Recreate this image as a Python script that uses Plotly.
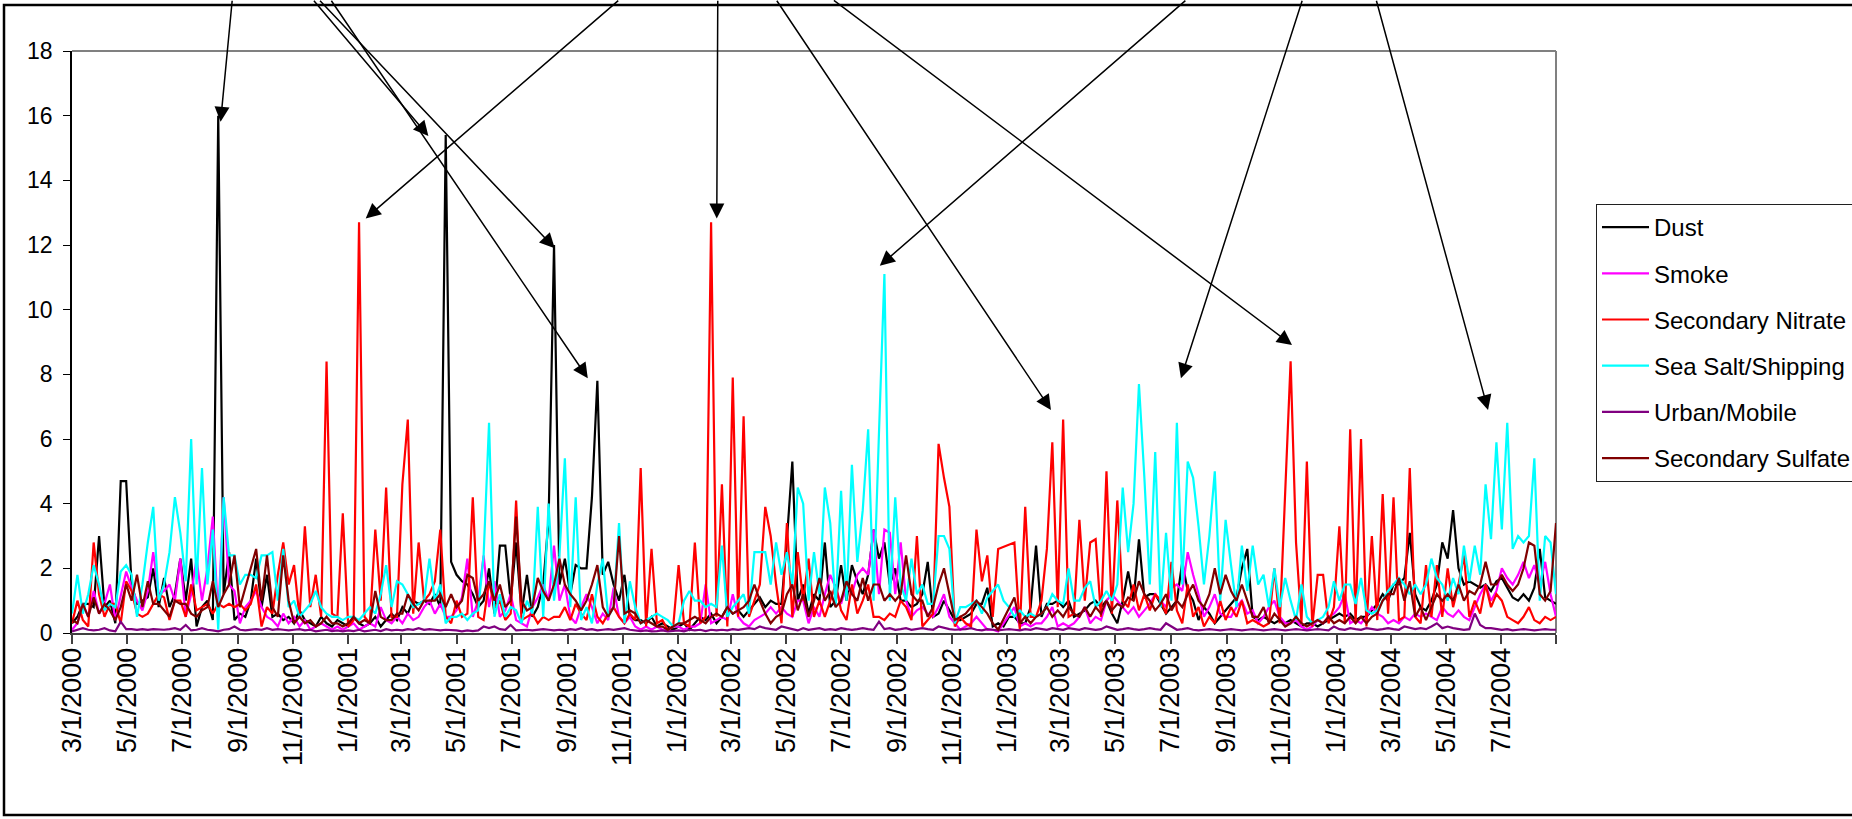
import pandas as pd
import plotly.graph_objects as go

# ---------------- data (6-day samples from 3/1/2000 to 8/31/2004) ----------------
start_date = "2000-03-01"
n_samples = 275
sample_step = "6D"

dust = [
    0.3,0.5,0.9,0.9,0.8, 3.0,0.8,1.0,0.3,4.7, 4.7,1.5,0.9,1.0,1.1, 2.0,0.8,1.7,0.8,1.2, 2.3,1.0,2.3,0.2,0.8,
    1.0,0.4,16.0,1.2,2.5, 0.4,0.6,0.5,1.0,2.3, 0.8,1.8,0.5,0.6,0.4, 0.5,0.3,0.7,0.4,0.3, 0.2,0.5,0.3,0.2,0.4,
    0.3,0.2,0.5,0.3,0.2, 0.3,0.5,0.2,0.4,0.6, 0.4,0.8,0.6,1.0,0.9, 1.0,0.9,1.2,0.8,15.4, 2.2,1.8,1.6,1.5,1.2,
    0.8,1.0,2.0,0.6,2.7, 2.7,1.0,2.8,0.6,1.8, 0.5,0.8,1.5,3.5,12.0, 1.5,2.3,1.2,2.1,2.0, 2.0,4.2,7.8,1.8,2.2,
    1.5,1.0,1.8,0.5,0.4, 0.4,0.3,0.5,0.2,0.3, 0.2,0.1,0.2,0.3,0.1, 0.3,0.5,0.4,0.6,0.3, 0.5,0.8,0.6,0.7,0.5,
    0.7,0.9,1.1,0.8,1.0, 0.9,0.9,2.9,5.3,1.0, 1.5,0.6,1.2,1.0,2.8, 0.8,1.0,2.1,1.0,2.1, 1.6,1.2,1.8,3.2,2.3,
    2.8,1.5,2.0,1.0,1.0, 0.8,0.9,1.2,2.2,0.5, 0.6,1.0,0.7,0.4, 0.4,0.5,0.6,0.9,0.9, 1.4,0.2,0.3,0.2,0.5,
    0.5,0.3,0.3,0.8,2.7, 0.5,0.9,0.9,1.0,0.8, 1.0,0.5,0.6,0.7,0.9, 1.0,0.8,1.0,0.6,0.3, 1.0,1.9,1.0,2.9,1.1,
    1.2,1.2,0.9,0.6,0.8, 1.0,2.2,1.3,1.0,0.4, 0.8,0.6,0.3,0.5,0.7, 0.9,1.1,2.0,2.6,0.5, 0.4,0.5,0.4,0.3,0.4,
    0.3,0.4,0.3,0.2,0.3, 0.3,0.2,0.3,0.4,0.5, 0.6,0.5,0.6,0.4,0.5, 0.5,0.7,0.9,1.2,1.0, 1.5,1.5,1.7,3.1,1.2,
    0.8,0.7,1.0,1.5,2.8, 2.3,3.8,2.0,1.5,1.6, 1.5,1.4,1.5,1.3,1.6, 1.7,1.4,1.1,1.0,1.2, 1.0,1.4,2.6,1.1,1.0,0.9,
]

smoke = [
    0.1,0.3,0.9,0.5,1.3, 0.6,0.9,1.5,0.4,1.2, 1.9,1.4,1.0,0.7,1.3, 2.5,1.2,1.3,1.5,1.0, 2.3,0.5,1.2,2.3,1.0,
    2.0,3.6,0.5,4.2,1.5, 1.3,0.3,0.8,1.0,1.3, 0.8,0.5,0.4,0.2,0.6, 0.3,0.5,0.2,0.4,0.1, 0.2,0.3,0.2,0.1,0.2,
    0.1,0.2,0.3,0.1,0.2, 0.3,0.2,0.8,0.4,0.3, 0.5,0.3,0.6,0.4,0.5, 0.8,1.0,0.6,0.9,0.5, 0.5,0.7,1.1,2.3,0.5,
    1.0,2.4,0.8,1.6,0.5, 0.7,1.2,0.4,0.3,0.2, 0.8,1.1,1.5,1.0,2.7, 1.0,1.5,0.5,0.3,0.8, 1.2,0.8,0.3,0.6,0.4,
    1.4,0.5,0.3,0.5,0.2, 0.1,0.2,0.1,0.2,0.1, 0.1,0.2,0.2,0.1,0.2, 0.2,0.3,1.5,0.3,0.4, 0.5,0.4,1.2,0.5,0.3,
    0.2,0.4,0.5,0.6,0.8, 0.6,0.8,0.6,0.5,1.0, 1.0,0.3,0.8,0.5,1.2, 1.8,1.4,0.9,1.5,1.2, 1.8,2.0,1.8,3.2,1.2,
    3.2,3.1,1.2,2.8,1.0, 0.5,0.7,0.8,0.6,0.5, 0.8,1.2,0.5,0.3, 0.1,0.2,0.3,0.5,0.3, 0.1,0.1,0.05,None,None,
    0.8,0.2,0.3,0.2,0.3, 0.3,0.5,0.8,0.2,0.3, 0.2,0.3,0.5,0.8,0.3, 0.5,0.4,1.0,1.2,1.0, 0.8,0.6,0.8,0.5,0.7,
    0.9,1.2,1.0,0.8,1.4, 1.5,1.3,2.5,1.8,1.2, 0.5,0.8,1.2,0.6,0.5, 0.5,0.8,1.0,0.6,0.7, 0.3,0.5,0.8,1.0,0.5,
    0.3,0.3,0.4,0.2,0.1, 0.2,0.4,0.3,0.5,0.6, 0.8,1.2,0.3,0.4,0.3, 0.5,0.8,0.6,0.5,0.3, 0.4,0.3,0.5,0.4,0.6,
    0.5,0.6,0.5,0.4,0.8, 0.6,0.5,0.7,0.5,0.4, 0.8,1.2,1.5,1.0,1.3, 2.0,1.7,1.5,1.8,2.2, 1.7,2.1,1.5,2.2,1.2,0.5,
]

nitrate = [
    0.3,1.0,0.4,0.2,2.8, 1.2,0.5,0.9,0.9,0.3, 1.6,1.3,0.6,0.5,0.6, 0.9,1.2,1.1,0.4,1.0, 1.0,0.5,1.5,0.7,0.8,
    0.9,0.6,0.9,0.8,0.9, 0.8,0.9,0.7,0.9,1.5, 0.2,0.8,0.6,1.8,2.8, 1.5,2.1,0.5,3.3,0.8, 1.8,0.5,8.4,0.6,0.5,
    3.7,0.2,0.4,12.7,0.5, 0.3,3.2,1.0,4.5,0.5, 0.5,4.6,6.6,0.6,2.8, 1.0,1.2,1.6,3.2,0.5, 0.3,1.0,0.5,0.6,4.2,
    0.5,0.4,1.6,0.8,1.0, 0.4,0.6,4.1,0.4,0.5, 0.6,0.3,0.5,0.4,0.5, 0.5,0.8,0.4,0.9,0.6, 0.4,1.2,0.5,0.3,0.6,
    0.8,0.5,0.3,0.6,0.4, 5.1,0.2,2.6,0.3,0.4, 0.1,0.2,2.1,0.3,0.2, 2.8,0.3,0.5,12.7,0.5, 4.6,0.2,7.9,0.5,6.7,
    0.5,1.0,1.5,3.9,3.0, 1.5,0.3,3.4,0.5,2.5, 1.0,2.3,0.5,1.0,0.5, 1.0,1.5,0.7,0.4,1.5, 0.6,1.0,1.5,0.5,0.5,
    0.4,0.6,0.5,1.0,0.8, 0.4,3.0,0.2,0.4,0.6, 5.85,4.8,3.9,0.2, 0.5,0.3,0.2,3.2,1.6, 2.4,0.5,2.6,None,None,
    2.8,0.1,3.9,0.5,0.5, 1.0,2.6,5.9,0.8,6.6, 0.5,0.6,3.5,1.0,2.8, 2.9,0.5,5.0,0.6,4.1, 1.0,0.8,1.5,0.7,1.2,
    0.7,1.2,1.0,0.6,2.2, 0.7,0.3,1.5,0.5,0.8, 0.2,0.5,0.3,1.0,0.4, 0.8,0.5,1.0,0.3,0.4, 0.3,0.2,0.3,2.0,0.3,
    4.2,8.4,2.8,0.3,5.3, 0.2,1.8,1.8,0.3,0.8, 3.3,0.3,6.3,0.3,6.0, 0.2,3.0,0.4,4.3,0.6, 4.2,0.4,0.5,5.1,0.5,
    0.3,2.1,0.5,2.1,0.5, 2.0,0.8,1.5,2.4,0.5, 1.0,0.6,1.5,0.8,1.2, 1.0,0.5,0.4,0.3,0.5, 0.8,0.4,0.3,0.5,0.4,0.5,
]

sea_salt = [
    0.6,1.8,0.6,1.2,2.1, 1.5,0.7,0.9,0.8,1.9, 2.1,1.8,0.5,1.5,2.8, 3.9,1.0,1.5,2.5,4.2, 3.1,1.6,6.0,1.5,5.1,
    1.5,3.2,0.1,4.2,2.4, 2.4,1.5,1.8,1.8,1.7, 2.4,2.4,2.5,1.0,2.6, 0.8,1.0,0.5,0.7,0.9, 1.3,0.8,0.6,0.5,0.5,
    0.4,0.5,0.5,0.4,0.6, 0.8,0.6,1.2,2.1,0.8, 1.6,1.5,1.2,0.8,0.9, 1.0,2.3,1.0,1.5,0.3, 0.5,0.5,0.6,0.4,0.6,
    0.7,2.4,6.5,0.5,1.2, 0.5,0.8,0.7,0.3,1.0, 0.6,3.9,0.5,4.0,1.0, 2.4,5.4,0.8,4.2,0.4, 0.8,0.3,1.5,2.3,0.5,
    0.8,3.4,0.3,1.6,0.8, 0.3,0.4,0.5,0.6,0.5, 0.4,0.2,0.3,1.0,1.3, 1.0,1.0,0.8,0.9,0.8, 2.7,0.5,0.8,1.0,1.2,
    0.6,2.5,2.5,2.5,1.5, 2.8,1.8,2.5,1.5,4.5, 4.0,1.0,2.5,1.2,4.5, 3.4,0.8,4.4,1.0,5.2, 2.2,3.8,6.3,1.0,6.2,
    11.1,1.0,4.2,1.5,1.0, 2.3,1.2,1.5,0.9,0.9, 3.0,3.0,2.6,0.3, 0.8,0.8,0.9,1.0,0.6, 1.1,1.3,1.5,1.0,0.8,
    0.5,0.7,0.5,0.6,0.5, 0.6,0.8,1.2,1.0,0.9, 2.0,1.0,1.0,1.4,1.6, 0.8,1.0,1.3,1.0,1.5, 4.5,2.5,4.0,7.7,4.8,
    1.5,5.6,0.8,3.1,1.0, 6.5,1.5,5.3,4.8,3.3, 1.5,3.0,5.0,1.0,3.5, 2.1,0.8,2.7,1.3,2.7, 1.5,1.8,0.8,2.0,0.8,
    1.7,1.0,0.4,1.5,0.5, 0.3,0.4,0.5,0.8,1.6, 1.0,1.5,1.5,0.9,1.7, 0.7,0.6,0.7,1.0,1.3, 1.5,1.7,1.5,1.2,1.5,
    1.2,1.5,2.3,1.7,1.5, 1.0,1.7,1.2,2.7,1.6, 2.7,1.8,4.6,2.9,5.9, 3.2,6.5,2.6,3.0,2.8, 3.0,5.4,1.0,3.0,2.8,1.2,
]

urban = [
    0.05,0.1,0.15,0.1,0.08, 0.1,0.15,0.08,0.05,0.35, 0.12,0.12,0.1,0.12,0.1, 0.12,0.1,0.1,0.12,0.15, 0.1,0.25,0.08,0.1,0.15,
    0.1,0.08,0.05,0.1,0.12, 0.2,0.1,0.08,0.1,0.12, 0.1,0.15,0.1,0.12,0.1, 0.08,0.1,0.12,0.08,0.1, 0.05,0.08,0.1,0.06,0.08,
    0.05,0.08,0.06,0.1,0.05, 0.08,0.1,0.06,0.12,0.08, 0.1,0.08,0.12,0.1,0.15, 0.1,0.12,0.1,0.08,0.1, 0.1,0.08,0.05,0.08,0.06,
    0.08,0.2,0.15,0.2,0.12, 0.1,0.25,0.08,0.1,0.1, 0.08,0.1,0.12,0.1,0.08, 0.1,0.08,0.12,0.1,0.15, 0.1,0.12,0.08,0.1,0.12,
    0.1,0.12,0.15,0.1,0.08, 0.06,0.08,0.05,0.06,0.08, 0.05,0.06,0.08,0.05,0.1, 0.08,0.1,0.06,0.1,0.08, 0.1,0.08,0.12,0.1,0.12,
    0.15,0.12,0.2,0.15,0.12, 0.1,0.2,0.15,0.12,0.08, 0.15,0.1,0.12,0.15,0.1, 0.12,0.1,0.15,0.12,0.1, 0.12,0.15,0.12,0.1,0.35,
    0.12,0.15,0.1,0.12,0.15, 0.1,0.12,0.15,0.12,0.1, 0.2,0.15,0.12,0.1, 0.1,0.12,0.15,0.1,0.08, 0.12,0.1,0.08,0.1,0.12,
    0.1,0.08,0.12,0.1,0.15, 0.12,0.1,0.15,0.12,0.1, 0.15,0.12,0.1,0.15,0.12, 0.1,0.12,0.2,0.15,0.1, 0.12,0.15,0.12,0.1,0.12,
    0.15,0.12,0.1,0.3,0.2, 0.1,0.12,0.15,0.1,0.08, 0.1,0.12,0.1,0.08,0.1, 0.12,0.1,0.08,0.1,0.12, 0.1,0.08,0.1,0.12,0.1,
    0.08,0.1,0.12,0.1,0.08, 0.1,0.12,0.1,0.08,0.2, 0.12,0.1,0.15,0.12,0.1, 0.15,0.12,0.1,0.12,0.15, 0.12,0.1,0.2,0.15,0.12,
    0.15,0.12,0.2,0.3,0.15, 0.2,0.15,0.12,0.1,0.12, 0.6,0.25,0.15,0.15,0.12, 0.1,0.12,0.08,0.1,0.12, 0.1,0.08,0.1,0.12,0.1,0.1,
]

sulfate = [
    0.4,0.3,0.9,0.5,1.1, 0.6,0.9,0.7,0.4,0.8, 1.5,1.0,1.8,0.8,1.6, 0.9,0.9,0.7,0.5,1.0, 0.9,0.9,0.6,0.5,0.7,
    0.8,1.6,0.8,1.2,1.5, 2.4,0.8,None,None,2.6, 1.0,2.4,0.8,0.5,2.4, 1.0,0.3,0.5,0.3,0.4, 0.2,0.3,0.5,0.3,0.3,
    0.2,0.3,0.5,0.3,0.4, 0.3,1.3,0.5,0.4,0.4, 0.6,0.6,1.2,0.9,0.7, 1.0,1.0,1.0,1.2,0.8, 1.2,0.8,1.0,1.8,1.7,
    1.0,1.2,1.6,1.0,1.5, 0.8,1.0,3.6,1.0,0.7, 0.8,1.7,1.3,1.0,1.5, 2.3,1.5,1.2,1.0,0.7, 1.0,1.5,2.1,0.8,0.5,
    0.8,3.0,0.6,0.7,0.6, 0.3,0.4,0.3,0.2,0.2, 0.1,0.2,0.3,0.3,0.4, 0.5,0.4,0.3,0.5,0.6, 0.5,0.8,0.6,0.7,0.8,
    1.0,1.5,1.0,0.6,0.3, 0.5,0.6,1.2,1.5,0.7, 1.2,0.5,1.0,1.7,1.0, 1.3,0.8,1.0,1.6,1.2, 1.0,1.7,1.0,1.5,1.5,
    1.0,1.2,1.0,1.2,2.4, 1.2,1.0,1.0,0.5,0.8, 1.5,2.0,1.2,0.4, 0.5,0.6,0.8,1.0,0.8, 0.6,0.3,0.1,None,None,
    1.1,0.3,0.5,0.3,0.5, 0.6,0.8,0.5,0.7,0.5, 0.8,0.6,0.5,0.8,0.5, 0.8,0.6,1.0,0.7,0.9, 0.8,1.1,1.0,1.6,1.2,
    1.0,0.7,0.9,1.2,0.7, 1.0,0.8,1.2,1.5,1.0, 0.8,1.2,2.0,1.2,1.8, 1.3,1.0,1.5,1.0,0.5, 0.5,0.8,0.3,0.6,0.4,
    0.2,0.3,0.5,0.3,0.2, 0.3,0.4,0.3,0.5,0.3, 0.4,0.3,0.5,0.3,0.5, 0.3,0.5,0.6,1.0,1.2, 1.2,1.7,1.0,1.6,0.5,
    0.8,0.4,0.8,1.2,1.0, 1.2,1.0,1.5,1.0,1.3, 1.2,1.5,2.2,1.5,1.5, 1.8,1.5,1.3,1.5,2.0, 2.8,2.7,1.2,1.0,1.3,3.4,
]

series_names = ["Dust", "Smoke", "Secondary Nitrate", "Sea Salt/Shipping",
                "Urban/Mobile", "Secondary Sulfate"]
series_values = [dust, smoke, nitrate, sea_salt, urban, sulfate]
series_colors = ["#000000", "#FF00FF", "#FF0000", "#00FFFF", "#800080", "#800000"]

tick_dates = [
    "2000-03-01", "2000-05-01", "2000-07-01", "2000-09-01", "2000-11-01",
    "2001-01-01", "2001-03-01", "2001-05-01", "2001-07-01", "2001-09-01", "2001-11-01",
    "2002-01-01", "2002-03-01", "2002-05-01", "2002-07-01", "2002-09-01", "2002-11-01",
    "2003-01-01", "2003-03-01", "2003-05-01", "2003-07-01", "2003-09-01", "2003-11-01",
    "2004-01-01", "2004-03-01", "2004-05-01", "2004-07-01", "2004-08-31",
]
tick_labels = [
    "3/1/2000", "5/1/2000", "7/1/2000", "9/1/2000", "11/1/2000",
    "1/1/2001", "3/1/2001", "5/1/2001", "7/1/2001", "9/1/2001", "11/1/2001",
    "1/1/2002", "3/1/2002", "5/1/2002", "7/1/2002", "9/1/2002", "11/1/2002",
    "1/1/2003", "3/1/2003", "5/1/2003", "7/1/2003", "9/1/2003", "11/1/2003",
    "1/1/2004", "3/1/2004", "5/1/2004", "7/1/2004", "",
]

# arrow annotations: (tip day offset, tip value, tail day offset, tail value)
arrows = [
    (164.6, 15.81, 177.6, 19.6),
    (394.8, 15.37, 266.6, 19.6),
    (534.8, 11.90, 273.2, 19.6),
    (571.4, 7.88, 286.2, 19.6),
    (325.4, 12.82, 606.8, 19.6),
    (714.3, 12.82, 715.4, 19.6),
    (1084.5, 6.90, 779.7, 19.6),
    (1351.5, 8.91, 842.4, 19.6),
    (894.9, 11.36, 1235.1, 19.6),
    (1228.5, 7.88, 1363.3, 19.6),
    (1568.7, 6.90, 1444.6, 19.6),
]

# ---------------- figure ----------------
dates = pd.date_range(start=start_date, periods=n_samples, freq=sample_step)
for v in series_values:
    assert len(v) == n_samples, len(v)

FONT = "Liberation Sans, Arial, Helvetica, sans-serif"

fig = go.Figure()
for name, vals, col in zip(series_names, series_values, series_colors):
    fig.add_trace(go.Scatter(
        x=dates, y=vals, mode="lines", name=name, legendgroup=name,
        connectgaps=True, line=dict(color=col, width=2.2),
    ))

t0 = pd.Timestamp(start_date)
def to_date(d):
    return (t0 + pd.Timedelta(days=d)).strftime("%Y-%m-%d %H:%M")

annotations = []
for tx, ty, ax_, ay_ in arrows:
    annotations.append(dict(
        x=to_date(tx), y=ty, xref="x", yref="y",
        ax=to_date(ax_), ay=ay_, axref="x", ayref="y",
        text="", showarrow=True, arrowhead=2, arrowsize=2, arrowwidth=1.5,
        arrowcolor="black", standoff=0, startstandoff=0,
    ))

W, H = 1852, 819
ML, MR, MT, MB = 72, 296, 51, 186
pw, ph = W - ML - MR, H - MT - MB

def px_x(px):
    return (px - ML) / pw

def px_y(py):
    return (H - MB - py) / ph

shapes = [
    # plot-area border (grey, top & right)
    dict(type="line", xref="paper", yref="paper", x0=0, x1=1, y0=1, y1=1,
         line=dict(color="#808080", width=2), layer="below"),
    dict(type="line", xref="paper", yref="paper", x0=1, x1=1, y0=0, y1=1,
         line=dict(color="#808080", width=2), layer="below"),
    # chart-area border
    dict(type="rect", xref="paper", yref="paper",
         x0=px_x(4), x1=px_x(1900), y0=px_y(815), y1=px_y(5),
         line=dict(color="black", width=2.5), fillcolor="rgba(0,0,0,0)", layer="above"),
]

fig.update_layout(
    width=W, height=H,
    margin=dict(l=ML, r=MR, t=MT, b=MB, pad=0, autoexpand=False),
    paper_bgcolor="white", plot_bgcolor="white",
    font=dict(family=FONT, color="black"),
    showlegend=True,
    legend=dict(
        xref="container", yref="container",
        x=1596 / W, xanchor="left", y=(H - 204) / H, yanchor="top",
        bgcolor="white", bordercolor="#202020", borderwidth=1,
        font=dict(family=FONT, size=24, color="black"),
        traceorder="grouped", tracegroupgap=12, itemwidth=47,
    ),
    xaxis=dict(
        type="date", range=["2000-03-01", "2004-08-31"],
        tickmode="array", tickvals=tick_dates, ticktext=tick_labels,
        tickangle=-90, tickfont=dict(family=FONT, size=27, color="black"),
        ticks="outside", ticklen=9, tickwidth=1.5, tickcolor="#404040",
        showline=True, linecolor="#404040", linewidth=2,
        showgrid=False, zeroline=False, ticklabelstandoff=-7, automargin=False,
    ),
    yaxis=dict(
        range=[0, 18], tickmode="linear", tick0=0, dtick=2,
        tickfont=dict(family=FONT, size=23, color="black"),
        ticks="outside", ticklen=7, tickwidth=1.3, tickcolor="black",
        showline=True, linecolor="black", linewidth=1.5,
        showgrid=False, zeroline=False, ticklabelstandoff=6, automargin=False,
    ),
    annotations=annotations,
    shapes=shapes,
)

fig.write_html("out.html")
